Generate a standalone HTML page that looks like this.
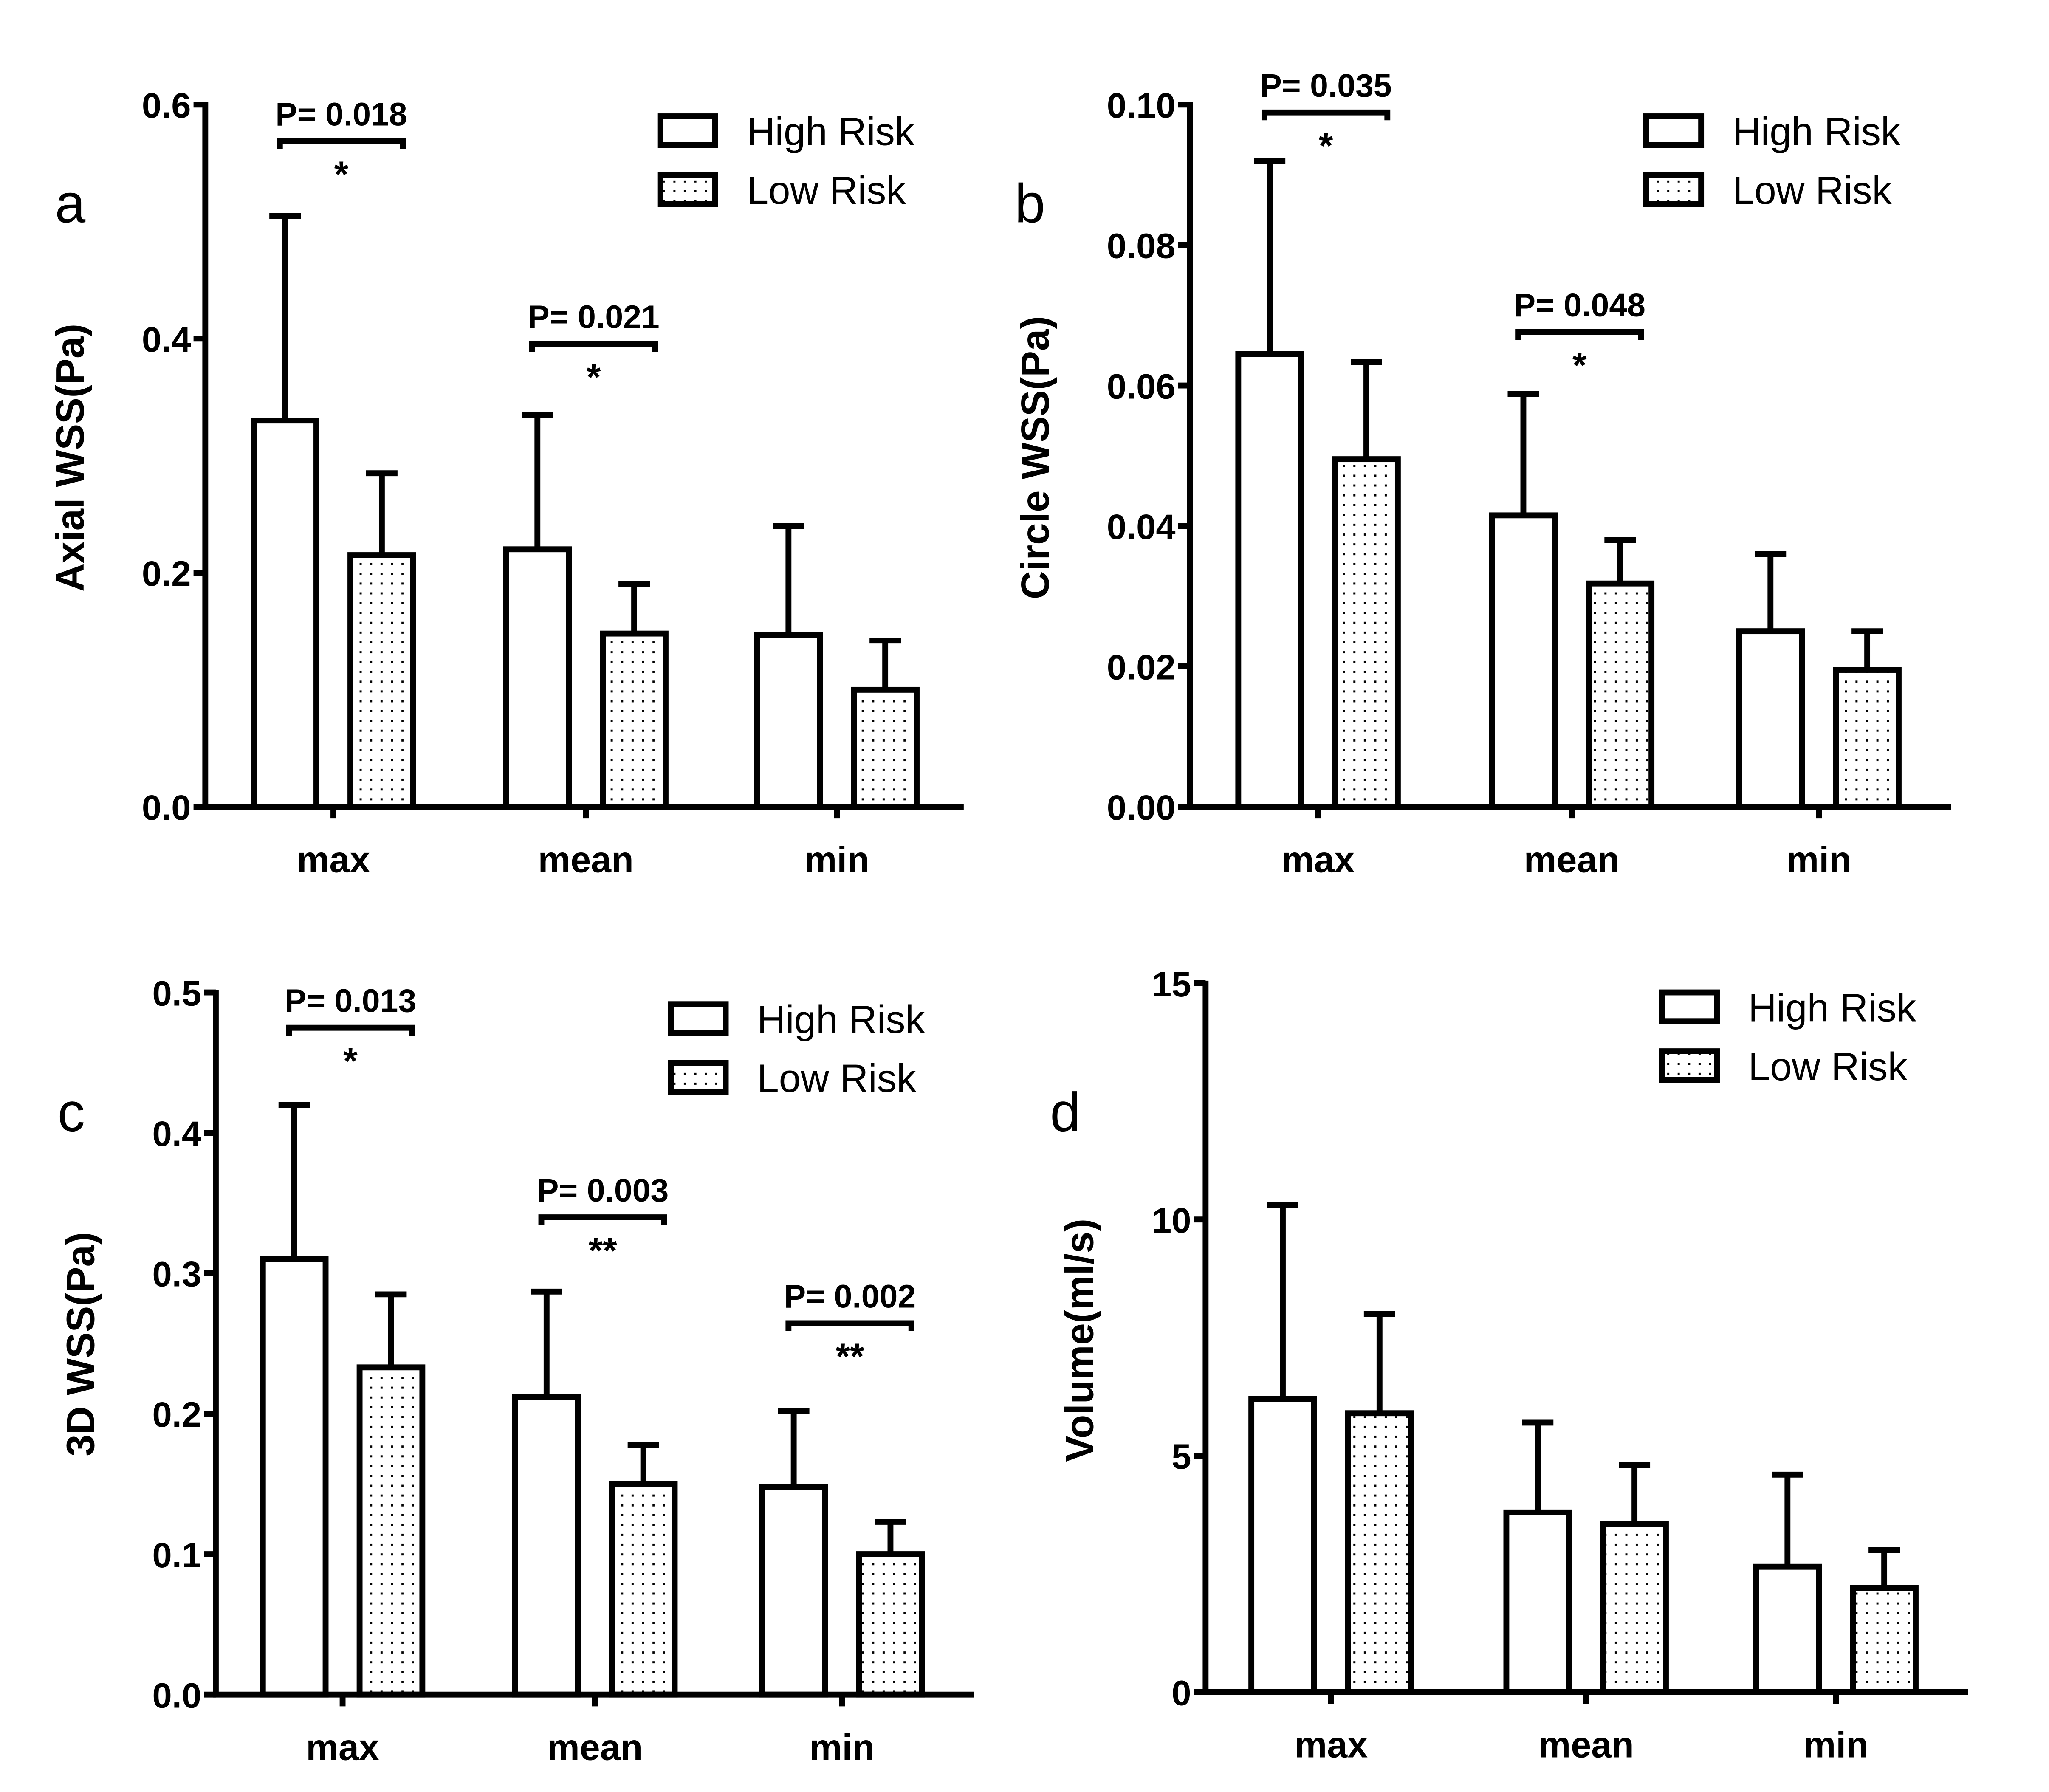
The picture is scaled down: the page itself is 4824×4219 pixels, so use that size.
<!DOCTYPE html>
<html><head><meta charset="utf-8"><style>
html,body{margin:0;padding:0;background:#fff;}
svg{display:block;}
text{font-family:"Liberation Sans",sans-serif;fill:#000;}
</style></head><body>
<svg id="fig" xmlns="http://www.w3.org/2000/svg" width="4824" height="4219" viewBox="0 0 1567 1370.5" preserveAspectRatio="none">
<defs>
<pattern id="dots" patternUnits="userSpaceOnUse" width="8" height="7.5">
<rect width="8" height="7.5" fill="#fff"/>
<rect x="3" y="3" width="1.6" height="1.6" fill="#000"/>
</pattern>
</defs>
</svg>
<script>
const categories = ["max","mean","min"];
const aHigh = [0.33,0.22,0.147], aHighErr = [0.505,0.335,0.24];
const aLow = [0.215,0.148,0.10], aLowErr = [0.285,0.19,0.142];
const aTicks = ["0.0","0.2","0.4","0.6"];
const bHigh = [0.0645,0.0415,0.025], bHighErr = [0.092,0.0588,0.036];
const bLow = [0.0495,0.0318,0.0195], bLowErr = [0.0633,0.038,0.025];
const bTicks = ["0.00","0.02","0.04","0.06","0.08","0.10"];
const cHigh = [0.31,0.212,0.148], cHighErr = [0.42,0.287,0.202];
const cLow = [0.233,0.15,0.10], cLowErr = [0.285,0.178,0.123];
const cTicks = ["0.0","0.1","0.2","0.3","0.4","0.5"];
const dHigh = [6.2,3.8,2.65], dHighErr = [10.3,5.7,4.6];
const dLow = [5.9,3.55,2.2], dLowErr = [8.0,4.8,3.0];
const dTicks = ["0","5","10","15"];
const aPvals = [["P= 0.018","*",0],["P= 0.021","*",1]];
const bPvals = [["P= 0.035","*",0],["P= 0.048","*",1]];
const cPvals = [["P= 0.013","*",0],["P= 0.003","**",1],["P= 0.002","**",2]];

const NS="http://www.w3.org/2000/svg";
const svg=document.getElementById('fig');
function mk(tag,attrs,parent,txt){const e=document.createElementNS(NS,tag);for(const k in attrs)e.setAttribute(k,attrs[k]);if(txt!==undefined)e.textContent=txt;(parent||svg).appendChild(e);return e;}

function panel(o){
  const g=mk('g',{});
  
  
  const ymax=parseFloat(o.ticks[o.ticks.length-1]);
  const y=v=>o.y0-(v/ymax)*(o.y0-o.yTop);
  const W=4.5;
  o.ticks.forEach(t=>{
    const yy=y(parseFloat(t));
    const l=mk('line',{x1:o.ax-9,x2:o.ax,y1:yy,y2:yy,stroke:'#000','stroke-width':W},g);
    
    
    const tx=mk('text',{x:o.ax-11,y:yy+10,'text-anchor':'end','font-size':27,'font-weight':'bold'},g,t);
    
    
  });
  categories.forEach((c,i)=>{
    const cx=o.gx[i];
    [[o.high,o.highErr,-37,'#fff','high-risk'],[o.low,o.lowErr,37,'url(#dots)','low-risk']].forEach(s=>{
      const bx=cx+s[2];
      const top=y(s[0][i]), et=y(s[1][i]);
      const eb=mk('line',{x1:bx,x2:bx,y1:top,y2:et,stroke:'#000','stroke-width':W},g);
      
      
      const cap=mk('line',{x1:bx-12,x2:bx+12,y1:et,y2:et,stroke:'#000','stroke-width':W},g);
      
      
      const r=mk('rect',{x:bx-24,y:top,width:48,height:o.y0-top,fill:s[3],stroke:'#000','stroke-width':W},g);
      
      
    });
    const xt=mk('line',{x1:cx,x2:cx,y1:o.y0,y2:o.y0+9,stroke:'#000','stroke-width':W},g);
    
    
    const xl=mk('text',{x:cx,y:o.y0+50,'text-anchor':'middle','font-size':28,'font-weight':'bold'},g,c);
    
    
  });
  const ya=mk('line',{x1:o.ax,x2:o.ax,y1:o.yTop-2,y2:o.y0+2,stroke:'#000','stroke-width':W},g);
  
  
  const xa=mk('line',{x1:o.ax-2,x2:o.xEnd,y1:o.y0,y2:o.y0,stroke:'#000','stroke-width':W},g);
  
  
  const yt=mk('text',{x:0,y:0,'text-anchor':'middle','font-size':30,'font-weight':'bold',transform:`translate(${o.titleX},${o.titleY}) rotate(-90)`},g,o.title);
  
  
  const lt=mk('text',{x:o.letter[0],y:o.letter[1],'font-size':42},g,o.id);
  
  
  [['High Risk','#fff',0],['Low Risk','url(#dots)',45]].forEach(L=>{
    const lr=mk('rect',{x:o.leg[0],y:o.leg[1]+L[2],width:42,height:22,fill:L[1],stroke:'#000','stroke-width':W},g);
    
    
    const lt2=mk('text',{x:o.leg[0]+66,y:o.leg[1]+L[2]+22,'font-size':30},g,L[0]);
    
    
  });
  (o.pv||[]).forEach(p=>{
    const i=p[2];
    const by=o.brY[i];
    const x1=o.gx[i]-41,x2=o.gx[i]+53;
    const br=mk('path',{d:`M${x1},${by+6} V${by} H${x2} V${by+6}`,fill:'none',stroke:'#000','stroke-width':W},g);
    
    
    const pt=mk('text',{x:(x1+x2)/2,y:by-12,'text-anchor':'middle','font-size':25,'font-weight':'bold'},g,p[0]);
    
    
    const st=mk('text',{x:(x1+x2)/2,y:by+35,'text-anchor':'middle','font-size':28,'font-weight':'bold'},g,p[1]);
    
    
  });
}
panel({id:'a',ax:157,y0:617,yTop:80,xEnd:737,gx:[255,448,640],high:aHigh,highErr:aHighErr,low:aLow,lowErr:aLowErr,ticks:aTicks,title:'Axial WSS(Pa)',titleX:64,titleY:350,letter:[42,170],leg:[505,89],pv:aPvals,brY:[108,263]});
panel({id:'b',ax:910,y0:617,yTop:80,xEnd:1492,gx:[1008,1202,1391],high:bHigh,highErr:bHighErr,low:bLow,lowErr:bLowErr,ticks:bTicks,title:'Circle WSS(Pa)',titleX:802,titleY:350,letter:[776,170],leg:[1259,89],pv:bPvals,brY:[86,254]});
panel({id:'c',ax:165,y0:1296,yTop:759,xEnd:745,gx:[262,455,644],high:cHigh,highErr:cHighErr,low:cLow,lowErr:cLowErr,ticks:cTicks,title:'3D WSS(Pa)',titleX:72,titleY:1028,letter:[44,865],leg:[513,768],pv:cPvals,brY:[786,931,1012]});
panel({id:'d',ax:922,y0:1294,yTop:752,xEnd:1505,gx:[1018,1213,1404],high:dHigh,highErr:dHighErr,low:dLow,lowErr:dLowErr,ticks:dTicks,title:'Volume(ml/s)',titleX:836,titleY:1025,letter:[803,865],leg:[1271,759],pv:[],brY:[]});
</script>
</body></html>
